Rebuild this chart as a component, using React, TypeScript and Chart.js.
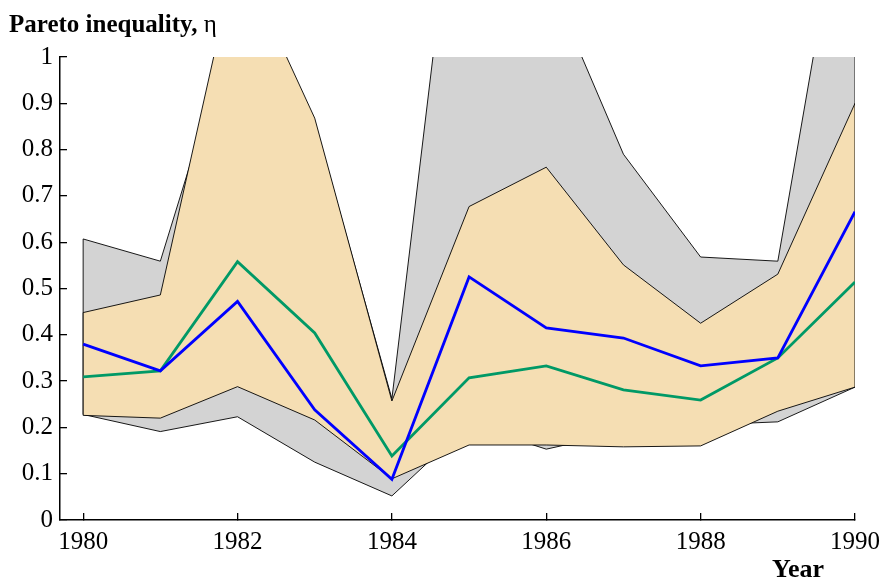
import React, { useEffect, useRef } from "react";
import { Chart, registerables } from "chart.js";

Chart.register(...registerables);

const years = [1980, 1981, 1982, 1983, 1984, 1985, 1986, 1987, 1988, 1989, 1990];
const xTicks = [1980, 1982, 1984, 1986, 1988, 1990];
const yTicks = [0, 0.1, 0.2, 0.3, 0.4, 0.5, 0.6, 0.7, 0.8, 0.9, 1];

const grayUpper = [0.607, 0.559, 1.1, 0.86, 0.262, 1.65, 1.18, 0.79, 0.568, 0.559, 1.52];
const grayLower = [0.228, 0.191, 0.223, 0.125, 0.052, 0.207, 0.153, 0.19, 0.205, 0.212, 0.287];
const tanUpper = [0.448, 0.486, 1.23, 0.868, 0.257, 0.677, 0.762, 0.551, 0.425, 0.531, 0.9];
const tanLower = [0.226, 0.22, 0.288, 0.216, 0.089, 0.162, 0.162, 0.158, 0.16, 0.235, 0.287];
const blueSeries = [0.38, 0.322, 0.472, 0.238, 0.088, 0.525, 0.415, 0.393, 0.333, 0.35, 0.666];
const greenSeries = [0.309, 0.322, 0.558, 0.404, 0.138, 0.307, 0.333, 0.281, 0.259, 0.35, 0.514];

const FONT = "'Liberation Serif', 'Times New Roman', 'DejaVu Serif', serif";

const pts = (arr: number[]) => years.map((x, i) => ({ x, y: arr[i] }));

const edgePlugin = {
  id: "bandEdges",
  afterDatasetDraw(chart: any, args: any) {
    const ds = chart.data.datasets[args.index] as any;
    if (!ds.edgeWith) return;
    const lower = ds.edgeWith as number[];
    const upper = ds.edgeValues as number[];
    const xs = chart.scales.x;
    const ys = chart.scales.y;
    const ctx = chart.ctx;
    const area = chart.chartArea;
    ctx.save();
    ctx.beginPath();
    ctx.rect(area.left, area.top, area.right - area.left, area.bottom - area.top);
    ctx.clip();
    ctx.strokeStyle = "#000";
    ctx.lineWidth = 0.9;
    [0, years.length - 1].forEach((i) => {
      const px = xs.getPixelForValue(years[i]);
      ctx.beginPath();
      ctx.moveTo(px, ys.getPixelForValue(upper[i]));
      ctx.lineTo(px, ys.getPixelForValue(lower[i]));
      ctx.stroke();
    });
    ctx.restore();
  },
};

export default function App() {
  const ref = useRef<HTMLCanvasElement | null>(null);

  useEffect(() => {
    if (!ref.current) return;
    const chart = new Chart(ref.current, {
      type: "line",
      data: {
        datasets: [
          {
            label: "blue",
            data: pts(blueSeries),
            borderColor: "#0000ff",
            borderWidth: 2.8,
            pointRadius: 0,
            fill: false,
            tension: 0,
          },
          {
            label: "green",
            data: pts(greenSeries),
            borderColor: "#009966",
            borderWidth: 2.8,
            pointRadius: 0,
            fill: false,
            tension: 0,
          },
          {
            label: "tanLower",
            data: pts(tanLower),
            borderColor: "#000",
            borderWidth: 0.9,
            pointRadius: 0,
            fill: false,
            tension: 0,
            clip: 0,
          },
          {
            label: "tanUpper",
            data: pts(tanUpper),
            borderColor: "#000",
            borderWidth: 0.9,
            backgroundColor: "#f5deb3",
            pointRadius: 0,
            fill: "-1",
            tension: 0,
            clip: 0,
            edgeWith: tanLower,
            edgeValues: tanUpper,
          } as any,
          {
            label: "grayLower",
            data: pts(grayLower),
            borderColor: "#000",
            borderWidth: 0.9,
            pointRadius: 0,
            fill: false,
            tension: 0,
            clip: 0,
          },
          {
            label: "grayUpper",
            data: pts(grayUpper),
            borderColor: "#000",
            borderWidth: 0.9,
            backgroundColor: "#d3d3d3",
            pointRadius: 0,
            fill: "-1",
            tension: 0,
            clip: 0,
            edgeWith: grayLower,
            edgeValues: grayUpper,
          } as any,
        ],
      },
      options: {
        animation: false,
        responsive: false,
        devicePixelRatio: 1,
        layout: { padding: { top: 57, right: 27, left: 0, bottom: 0 } },
        plugins: {
          legend: { display: false },
          tooltip: { enabled: false },
          title: { display: false },
        },
        scales: {
          x: {
            type: "linear",
            min: 1979.7,
            max: 1990,
            afterBuildTicks: (scale: any) => {
              scale.ticks = xTicks.map((v) => ({ value: v }));
            },
            afterFit: (scale: any) => {
              scale.height = 60;
              scale.paddingLeft = 0;
              scale.paddingRight = 0;
            },
            grid: {
              display: true,
              drawOnChartArea: false,
              drawTicks: true,
              tickLength: -7,
              color: "#000",
              lineWidth: 1.3,
            },
            border: { display: true, color: "#000", width: 1.5 },
            ticks: {
              color: "#000",
              font: { family: FONT, size: 25 },
              padding: 14,
              maxRotation: 0,
              autoSkip: false,
              callback: (v: any) => String(v),
            },
          },
          y: {
            type: "linear",
            min: 0,
            max: 1,
            afterBuildTicks: (scale: any) => {
              scale.ticks = yTicks.map((v) => ({ value: v }));
            },
            afterFit: (scale: any) => {
              scale.width = 60;
              scale.paddingTop = 0;
              scale.paddingBottom = 0;
            },
            grid: {
              display: true,
              drawOnChartArea: false,
              drawTicks: true,
              tickLength: -7,
              color: "#000",
              lineWidth: 1.3,
            },
            border: { display: true, color: "#000", width: 1.5 },
            ticks: {
              color: "#000",
              font: { family: FONT, size: 25 },
              padding: 14,
              autoSkip: false,
              callback: (v: any) => String(Math.round(Number(v) * 10) / 10),
            },
          },
        },
      },
      plugins: [edgePlugin],
    } as any);
    let alive = true;
    const fonts: any = (document as any).fonts;
    if (fonts && fonts.load) {
      Promise.all([
        fonts.load("25px 'Liberation Serif'"),
        fonts.load("bold 25px 'Liberation Serif'"),
      ])
        .then(() => {
          if (alive) chart.update();
        })
        .catch(() => {});
    }
    return () => {
      alive = false;
      chart.destroy();
    };
  }, []);

  return (
    <div style={{ position: "absolute", left: 0, top: 0, width: 882, height: 580, background: "#fff" }}>
      <canvas ref={ref} width={882} height={580} style={{ width: 882, height: 580, display: "block" }} />
      <div
        style={{
          position: "absolute",
          left: 9,
          top: 11,
          fontFamily: FONT,
          fontSize: 25,
          lineHeight: "25px",
          whiteSpace: "nowrap",
          color: "#000",
        }}
      >
        <span style={{ fontWeight: "bold" }}>Pareto inequality,</span>
        <span> η</span>
      </div>
      <div
        style={{
          position: "absolute",
          left: 772,
          top: 556,
          fontFamily: FONT,
          fontSize: 26,
          lineHeight: "26px",
          fontWeight: "bold",
          whiteSpace: "nowrap",
          color: "#000",
        }}
      >
        Year
      </div>
    </div>
  );
}
